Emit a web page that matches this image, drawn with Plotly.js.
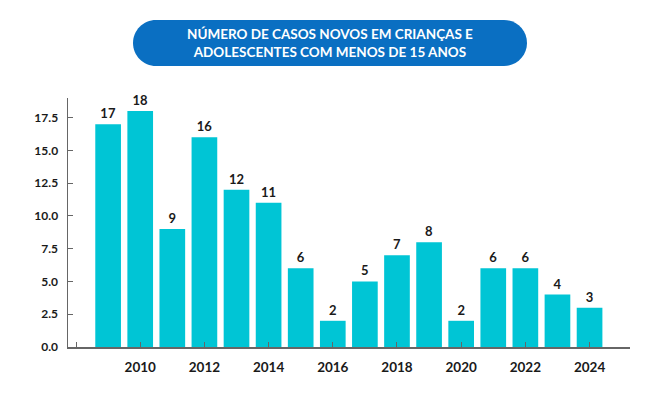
<!DOCTYPE html>
<html>
<head>
<meta charset="utf-8">
<script src="https://cdn.plot.ly/plotly-3.0.1.min.js"></script>
<style>
html,body{margin:0;padding:0;background:#fff;}
#chart{width:670px;height:399px;}
</style>
</head>
<body>
<div id="chart"></div>
<script>
const years = [2009,2010,2011,2012,2013,2014,2015,2016,2017,2018,2019,2020,2021,2022,2023,2024];
const casos = [17,18,9,16,12,11,6,2,5,7,8,2,6,6,4,3];
const yTickVals = [0,2.5,5,7.5,10,12.5,15,17.5];
const yTickText = ['0.0','2.5','5.0','7.5','10.0','12.5','15.0','17.5'];
const xTickVals = [2008,2010,2012,2014,2016,2018,2020,2022,2024];
const xTickText = ['','2010','2012','2014','2016','2018','2020','2022','2024'];
const titleText = 'NÚMERO DE CASOS NOVOS EM CRIANÇAS E<br>ADOLESCENTES COM MENOS DE 15 ANOS';

const W = 670, H = 399;
const M = {l:68, r:40, t:98, b:52};
const pw = W - M.l - M.r, ph = H - M.t - M.b;
function px(x){ return ((x - M.l)/pw).toFixed(5); }
function py(y){ return ((H - M.b - y)/ph).toFixed(5); }
function pill(x0,y0,x1,y1){
  const r = (y1-y0)/2, k = 0.5523*r;
  return 'M'+px(x0+r)+','+py(y0)+
    ' L'+px(x1-r)+','+py(y0)+
    ' C'+px(x1-r+k)+','+py(y0)+' '+px(x1)+','+py(y0+r-k)+' '+px(x1)+','+py(y0+r)+
    ' C'+px(x1)+','+py(y0+r+k)+' '+px(x1-r+k)+','+py(y1)+' '+px(x1-r)+','+py(y1)+
    ' L'+px(x0+r)+','+py(y1)+
    ' C'+px(x0+r-k)+','+py(y1)+' '+px(x0)+','+py(y1-r+k)+' '+px(x0)+','+py(y1-r)+
    ' C'+px(x0)+','+py(y0+r-k)+' '+px(x0+r-k)+','+py(y0)+' '+px(x0+r)+','+py(y0)+' Z';
}

const trace = {
  type:'bar', x:years, y:casos,
  marker:{color:'#00c5d5'},
  width:0.8,
  text:casos.map(String), textposition:'outside', cliponaxis:false,
  textfont:{family:'Lato, sans-serif', size:13, color:'#1a1a1a', weight:'bold'},
  hoverinfo:'none'
};

const layout = {
  width:W, height:H,
  margin:M,
  paper_bgcolor:'#fff', plot_bgcolor:'#fff',
  showlegend:false,
  font:{family:'Lato, sans-serif', color:'#1a1a1a'},
  xaxis:{
    range:[2007.75,2025.26], tickvals:xTickVals, ticktext:xTickText,
    ticks:'inside', ticklen:5, tickcolor:'#666', tickwidth:1,
    showline:true, linecolor:'#666', linewidth:1.5,
    showgrid:false, zeroline:false,
    tickfont:{family:'Lato, sans-serif', size:13.5, color:'#1a1a1a', weight:'bold'},
    ticklabelstandoff:7
  },
  yaxis:{
    range:[0,19], tickvals:yTickVals, ticktext:yTickText,
    ticks:'inside', ticklen:5, tickcolor:'#666', tickwidth:1,
    showline:true, linecolor:'#666', linewidth:1.5,
    showgrid:false, zeroline:false,
    tickfont:{family:'Lato, sans-serif', size:12, color:'#1a1a1a', weight:'bold'},
    ticklabelstandoff:6
  },
  shapes:[{
    type:'path', xref:'paper', yref:'paper', layer:'above',
    path:pill(133,20,527,66),
    fillcolor:'#0a6fc2', line:{width:0}
  }],
  annotations:[{
    xref:'paper', yref:'paper', x:px(330), y:py(43.5), xanchor:'center', yanchor:'middle',
    text:titleText, showarrow:false,
    font:{family:'Lato, sans-serif', size:13.5, color:'#ffffff', weight:'bold'},
    align:'center'
  }]
};

Plotly.newPlot('chart',[trace],layout,{displayModeBar:false, staticPlot:true});
</script>
</body>
</html>
